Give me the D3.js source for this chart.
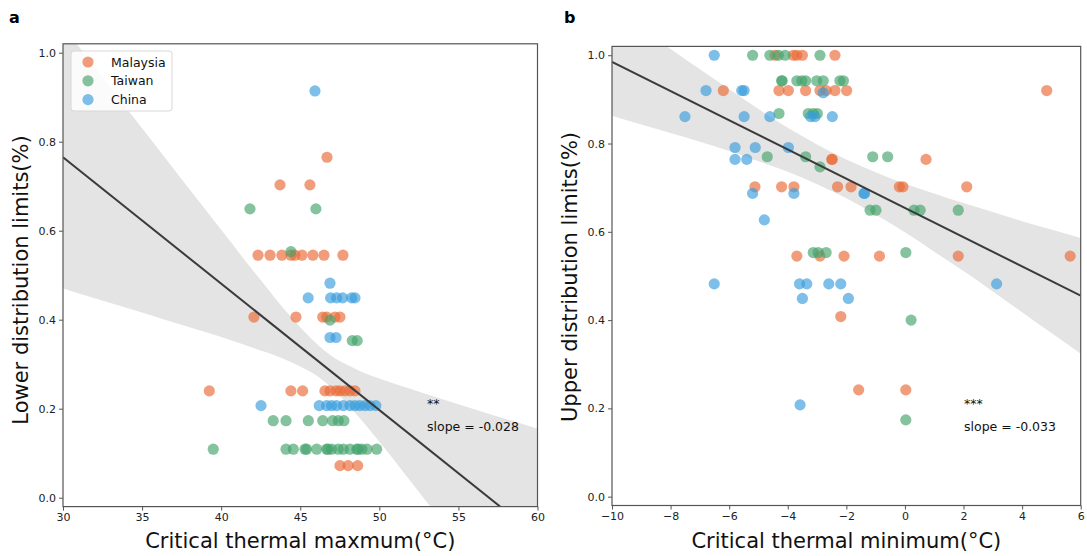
<!DOCTYPE html>
<html>
<head>
<meta charset="utf-8">
<script src="https://cdn.jsdelivr.net/npm/d3@7"></script>
<style>
  body { margin: 0; background: #fff; }
  text { font-family: "DejaVu Sans", sans-serif; }
</style>
</head>
<body>
<script>
// ---- data ----
// panel a : critical thermal maximum vs lower distribution limit
var aMalaysia = [[46.69,0.765],[43.72,0.703],[45.61,0.703],
  [42.33,0.545],[43.09,0.545],[43.84,0.545],[44.41,0.545],[44.66,0.545],[45.11,0.545],[45.80,0.545],[46.50,0.545],[47.70,0.545],
  [42.07,0.406],[44.73,0.406],[46.42,0.406],[46.67,0.406],[47.19,0.406],[47.51,0.406],
  [39.25,0.240],[44.41,0.240],[45.15,0.240],[46.56,0.240],[46.88,0.240],[47.26,0.240],[47.51,0.240],[47.83,0.240],[48.15,0.240],[48.46,0.240],
  [47.51,0.072],[48.03,0.072],[48.63,0.072]];
var aTaiwan = [[41.82,0.649],[45.99,0.649],[44.41,0.553],[46.88,0.399],[48.29,0.353],[48.60,0.353],
  [43.29,0.173],[44.10,0.173],[45.51,0.173],[46.42,0.173],[47.05,0.173],[47.41,0.173],[47.76,0.173],
  [39.50,0.109],[44.10,0.109],[44.56,0.109],[45.30,0.109],[45.40,0.109],[46.04,0.109],[46.67,0.109],[46.75,0.109],[46.98,0.109],
  [47.40,0.109],[47.72,0.109],[48.14,0.109],[48.58,0.109],[48.66,0.109],[48.90,0.109],[49.22,0.109],[49.83,0.109]];
var aChina = [[45.93,0.914],[46.88,0.482],
  [45.50,0.449],[46.92,0.449],[47.30,0.449],[47.68,0.449],[48.25,0.449],[48.46,0.449],
  [46.88,0.360],[47.26,0.360],
  [42.52,0.207],[46.20,0.207],[46.67,0.207],[46.98,0.207],[47.30,0.207],[47.72,0.207],[48.14,0.207],[48.46,0.207],
  [48.77,0.207],[49.09,0.207],[49.41,0.207],[49.78,0.207]];
var aFit = {slope: -0.0284, intercept: 1.617};
var aBandX     = [30, 32, 34, 36, 38, 40, 42, 43, 44, 45, 46, 47, 48, 49, 50, 52, 54, 56, 58, 60];
var aBandUpper = [1.060, 0.968, 0.876, 0.785, 0.693, 0.602, 0.511, 0.467, 0.423, 0.383, 0.347, 0.318, 0.298, 0.281, 0.268, 0.244, 0.221, 0.199, 0.177, 0.155];
var aBandLower = [0.470, 0.448, 0.427, 0.405, 0.383, 0.361, 0.337, 0.325, 0.311, 0.295, 0.275, 0.246, 0.210, 0.169, 0.126, 0.036, -0.055, -0.145, -0.237, -0.329];
var aXTicks = [30, 35, 40, 45, 50, 55, 60];

// panel b : critical thermal minimum vs upper distribution limit
var bMalaysia = [[-4.43,1.0],[-3.81,1.0],[-3.69,1.0],[-3.50,1.0],[-2.39,1.0],
  [-6.20,0.920],[-4.30,0.920],[-3.98,0.920],[-3.39,0.920],[-2.90,0.920],[-2.69,0.920],[-2.39,0.920],[-1.99,0.920],[4.84,0.920],
  [-2.50,0.764],[-2.48,0.764],[0.72,0.764],
  [-5.12,0.702],[-4.21,0.702],[-3.79,0.702],[-2.30,0.702],[-1.84,0.702],[-0.19,0.702],[-0.07,0.702],[2.11,0.702],
  [-3.69,0.545],[-2.90,0.545],[-2.08,0.545],[-0.87,0.545],[1.82,0.545],[5.64,0.545],
  [-2.19,0.408],[-1.58,0.242],[0.03,0.242]];
var bTaiwan = [[-5.20,1.0],[-4.61,1.0],[-4.32,1.0],[-4.09,1.0],[-2.90,1.0],
  [-4.21,0.942],[-4.19,0.942],[-3.69,0.942],[-3.52,0.942],[-3.39,0.942],[-3.01,0.942],[-2.79,0.942],[-2.22,0.942],[-2.10,0.942],
  [-4.30,0.868],[-3.30,0.868],[-3.13,0.868],[-2.99,0.868],
  [-4.70,0.770],[-3.39,0.770],[-1.10,0.770],[-0.59,0.770],[-2.90,0.747],
  [-1.19,0.649],[-0.99,0.649],[0.31,0.649],[0.52,0.649],[1.82,0.649],
  [-3.13,0.553],[-2.96,0.553],[-2.69,0.553],[0.03,0.553],
  [0.21,0.400],[0.03,0.174]];
var bChina = [[-6.51,1.0],
  [-6.79,0.920],[-5.57,0.920],[-5.49,0.920],[-2.79,0.915],
  [-7.51,0.861],[-5.49,0.861],[-4.61,0.861],[-3.22,0.861],[-3.07,0.861],[-2.48,0.861],
  [-5.80,0.791],[-5.11,0.791],[-3.98,0.791],[-5.80,0.764],[-5.40,0.764],
  [-5.20,0.687],[-3.79,0.687],[-1.40,0.687],[-1.38,0.687],[-4.80,0.627],
  [-6.51,0.482],[-3.60,0.482],[-3.35,0.482],[-2.60,0.482],[-2.19,0.482],[3.13,0.482],
  [-3.50,0.449],[-1.93,0.449],[-3.58,0.208]];
var bFit = {slope: -0.0331, intercept: 0.654};
var bBandX     = [-10, -9, -8, -7, -6, -5, -4, -3, -2, -1, 0, 1, 2, 3, 4, 5, 6];
var bBandUpper = [1.107, 1.060, 1.014, 0.968, 0.923, 0.878, 0.836, 0.798, 0.764, 0.735, 0.709, 0.687, 0.665, 0.645, 0.624, 0.605, 0.586];
var bBandLower = [0.863, 0.843, 0.824, 0.804, 0.783, 0.760, 0.736, 0.708, 0.676, 0.639, 0.599, 0.555, 0.511, 0.465, 0.418, 0.371, 0.324];
var bXTicks = [-10, -8, -6, -4, -2, 0, 2, 4, 6];

var yTicks = [0.0, 0.2, 0.4, 0.6, 0.8, 1.0];
var regions = ["Malaysia", "Taiwan", "China"];
var colors = {Malaysia: "#ea6934", Taiwan: "#44a36b", China: "#389cdc"};

// ---- svg ----
var svg = d3.select("body").append("svg")
    .attr("width", 1087)
    .attr("height", 556);

function drawPanel(p) {
  var x = d3.scaleLinear().domain(p.xDomain).range([p.left, p.right]);
  var y = d3.scaleLinear().domain([-0.02, 1.02]).range([p.bottom, p.top]);
  var g = svg.append("g");

  g.append("clipPath").attr("id", p.id + "clip")
    .append("rect")
      .attr("x", p.left).attr("y", p.top)
      .attr("width", p.right - p.left).attr("height", p.bottom - p.top);
  var plot = g.append("g").attr("clip-path", "url(#" + p.id + "clip)");

  // confidence band
  var area = d3.area()
      .x(function(d, i) { return x(p.bandX[i]); })
      .y0(function(d, i) { return y(p.bandLower[i]); })
      .y1(function(d, i) { return y(p.bandUpper[i]); })
      .curve(d3.curveMonotoneX);
  plot.append("path")
    .datum(p.bandX)
    .attr("d", area)
    .attr("fill", "#e4e4e4");

  // points
  regions.forEach(function(r) {
    plot.selectAll("circle." + r)
      .data(p.series[r])
      .enter().append("circle")
        .attr("class", r)
        .attr("cx", function(d) { return x(d[0]); })
        .attr("cy", function(d) { return y(d[1]); })
        .attr("r", 5.6)
        .attr("fill", colors[r])
        .attr("fill-opacity", 0.65);
  });

  // regression line
  var xs = x.domain();
  plot.append("line")
    .attr("x1", x(xs[0])).attr("y1", y(p.fit.intercept + p.fit.slope * xs[0]))
    .attr("x2", x(xs[1])).attr("y2", y(p.fit.intercept + p.fit.slope * xs[1]))
    .attr("stroke", "#3a3a3a")
    .attr("stroke-width", 2);

  // axes
  var xAxis = d3.axisBottom(x).tickValues(p.xTicks).tickSize(4).tickPadding(3)
      .tickFormat(d3.format("d"));
  var yAxis = d3.axisLeft(y).tickValues(yTicks).tickSize(4).tickPadding(3)
      .tickFormat(d3.format(".1f"));
  var gx = g.append("g").attr("transform", "translate(0," + p.bottom + ")").call(xAxis);
  var gy = g.append("g").attr("transform", "translate(" + p.left + ",0)").call(yAxis);
  [gx, gy].forEach(function(a) {
    a.select(".domain").remove();
    a.selectAll(".tick line").attr("stroke", "#555");
    a.selectAll(".tick text").attr("font-size", 11).attr("fill", "#222")
      .attr("font-family", "DejaVu Sans, sans-serif");
  });

  // frame
  g.append("rect")
    .attr("x", p.left).attr("y", p.top)
    .attr("width", p.right - p.left).attr("height", p.bottom - p.top)
    .attr("fill", "none").attr("stroke", "#555").attr("stroke-width", 1.2);

  // labels
  g.append("text")
    .attr("x", (p.left + p.right) / 2).attr("y", 548)
    .attr("text-anchor", "middle").attr("font-size", 21).attr("fill", "#111")
    .text(p.xLabel);
  g.append("text")
    .attr("transform", "translate(" + p.yLabelX + "," + p.yLabelY + ") rotate(-90)")
    .attr("text-anchor", "middle").attr("font-size", 21).attr("fill", "#111")
    .text(p.yLabel);
  g.append("text")
    .attr("x", p.letterX).attr("y", 23)
    .attr("font-size", 16).attr("font-weight", "bold")
    .text(p.letter);

  // significance annotation
  g.append("text").attr("x", p.noteX).attr("y", 408)
    .attr("font-size", 12.5).attr("fill", "#111").text(p.stars);
  g.append("text").attr("x", p.noteX).attr("y", 431)
    .attr("font-size", 12.5).attr("fill", "#111").text("slope = " + p.fit.slope.toFixed(3));
}

drawPanel({id: "a", letter: "a", letterX: 9,
  xDomain: [30, 60], left: 63, right: 537.5, top: 43.8, bottom: 506.6,
  series: {Malaysia: aMalaysia, Taiwan: aTaiwan, China: aChina},
  fit: aFit, bandX: aBandX, bandUpper: aBandUpper, bandLower: aBandLower, xTicks: aXTicks,
  xLabel: "Critical thermal maxmum(°C)", yLabel: "Lower distribution limits(%)",
  yLabelX: 28, yLabelY: 280, noteX: 427, stars: "**"});

drawPanel({id: "b", letter: "b", letterX: 564,
  xDomain: [-10, 6], left: 612, right: 1080.7, top: 46.4, bottom: 505.5,
  series: {Malaysia: bMalaysia, Taiwan: bTaiwan, China: bChina},
  fit: bFit, bandX: bBandX, bandUpper: bBandUpper, bandLower: bBandLower, xTicks: bXTicks,
  xLabel: "Critical thermal minimum(°C)", yLabel: "Upper distribution limits(%)",
  yLabelX: 577, yLabelY: 277, noteX: 964, stars: "***"});

// legend (panel a)
var legend = svg.append("g");
legend.append("rect")
  .attr("x", 71).attr("y", 51).attr("width", 101).attr("height", 60).attr("rx", 3)
  .attr("fill", "#fff").attr("fill-opacity", 0.85).attr("stroke", "#d8d8d8");
var items = legend.selectAll("g.item")
  .data(regions)
  .enter().append("g")
    .attr("class", "item")
    .attr("transform", function(d, i) { return "translate(88," + (62 + i * 18.8) + ")"; });
items.append("circle").attr("r", 5.6)
  .attr("fill", function(d) { return colors[d]; }).attr("fill-opacity", 0.65);
items.append("text").attr("x", 23).attr("y", 4.5)
  .attr("font-size", 12.5).attr("fill", "#111")
  .text(function(d) { return d; });
</script>
</body>
</html>
